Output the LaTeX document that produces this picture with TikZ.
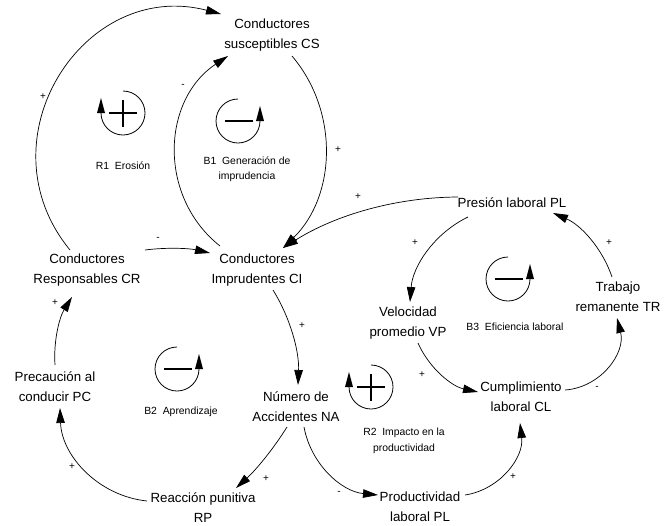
\documentclass[tikz,border=0pt]{standalone}
\usepackage{fontspec}
\setmainfont{Liberation Sans}
\usetikzlibrary{arrows.meta}
\tikzset{
  var/.style={align=center,inner sep=0pt,font=\fontsize{13.3}{20}\selectfont},
  looplbl/.style={align=center,inner sep=0pt,font=\fontsize{10.4}{15.5}\selectfont},
  sgn/.style={inner sep=0pt,font=\fontsize{10}{12}\selectfont},
  link/.style={draw,line width=0.7pt,-{Triangle[length=15pt,width=8.5pt]}},
  loopc/.style={line width=0.8pt},
  loopsym/.style={line width=2pt},
  rloop/.pic={
    \draw[loopc] (90:22) arc[start angle=90,end angle=-180,radius=22];
    \fill (-26,0) -- (-18,0) -- (-22,15) -- cycle;
    \draw[loopsym] (-14,0) -- (14,0) (0,-13.5) -- (0,13.5);
  },
  bloop/.pic={
    \draw[loopc] (90:22) arc[start angle=90,end angle=360,radius=22];
    \fill (18,0) -- (26,0) -- (22,15) -- cycle;
    \draw[loopsym] (-13,0) -- (15,0);
  }
}
\begin{document}
\begin{tikzpicture}[x=1pt,y=1pt]
\useasboundingbox (0,0) rectangle (671,-525);
% variables
\node[var] (CS) at (272,-35) {Conductores\\susceptibles CS};
\node[var] (CI) at (257,-270) {Conductores\\Imprudentes CI};
\node[var] (CR) at (87,-270) {Conductores\\Responsables CR};
\node[var] (PC) at (55,-387) {Precaución al\\conducir PC};
\node[var] (NA) at (296,-407) {Número de\\Accidentes NA};
\node[var] (RP) at (203,-508) {Reacción punitiva\\RP};
\node[var] (PLab) at (420,-507) {Productividad\\laboral PL};
\node[var] (CL) at (521,-397) {Cumplimiento\\laboral CL};
\node[var] (VP) at (408,-323) {Velocidad\\promedio VP};
\node[var] (PL) at (512,-203) {Presión laboral PL};
\node[var] (TR) at (618,-297) {Trabajo\\remanente TR};
% connectors
\path[link] ([shift={(-17,20)}]CR.center) to[bend left=72,looseness=1.3] ([shift={(-51,21)}]CS.center);
\path[link] ([shift={(20,-21)}]CS.center) to[bend left=43,looseness=0.98] ([shift={(26,22)}]CI.center);
\path[link] ([shift={(-37,24)}]CI.center) to[bend left=54,looseness=1.07] ([shift={(-44,-21)}]CS.center);
\path[link] ([shift={(58,20)}]CR.center) to[bend left=10,looseness=0.85] ([shift={(-47,17)}]CI.center);
\path[link] ([shift={(-54,6)}]PL.center) to[bend right=16,looseness=0.87] ([shift={(26,22)}]CI.center);
\path[link] ([shift={(-44,-14)}]PL.center) to[bend right=30,looseness=0.91] ([shift={(2,21)}]VP.center);
\path[link] ([shift={(10,-20)}]VP.center) to[bend right=27,looseness=0.9] ([shift={(-43,5)}]CL.center);
\path[link] ([shift={(44,7)}]CL.center) to[bend right=50,looseness=1.04] ([shift={(-1,-21)}]TR.center);
\path[link] ([shift={(-6,20)}]TR.center) to[bend right=24,looseness=0.89] ([shift={(41,-10)}]PL.center);
\path[link] ([shift={(16,-20)}]CI.center) to[bend left=17,looseness=0.87] ([shift={(2,22)}]NA.center);
\path[link] ([shift={(-9,-20)}]NA.center) to[bend left=8,looseness=0.85] ([shift={(33,20)}]RP.center);
\path[link] ([shift={(8,-20)}]NA.center) to[bend right=37,looseness=0.95] ([shift={(-42,12)}]PLab.center);
\path[link] ([shift={(45,12)}]PLab.center) to[bend right=44,looseness=0.99] ([shift={(-1,-26)}]CL.center);
\path[link] ([shift={(-56,7)}]RP.center) to[bend left=41,looseness=0.97] ([shift={(5,-21)}]PC.center);
\path[link] ([shift={(0,22)}]PC.center) to[bend left=18,looseness=0.87] ([shift={(-15,-27)}]CR.center);
% polarity signs
\node[sgn] (s1) at (43,-97) {+};
\node[sgn] (s2) at (338,-150) {+};
\node[sgn] (s3) at (183,-86) {-};
\node[sgn] (s4) at (158,-239) {-};
\node[sgn] (s5) at (358,-197) {+};
\node[sgn] (s6) at (415,-243) {+};
\node[sgn] (s7) at (422,-375) {+};
\node[sgn] (s8) at (597,-388) {-};
\node[sgn] (s9) at (609,-243) {+};
\node[sgn] (s10) at (302,-326) {+};
\node[sgn] (s11) at (266,-479) {+};
\node[sgn] (s12) at (339,-493) {-};
\node[sgn] (s13) at (513,-477) {+};
\node[sgn] (s14) at (72,-467) {+};
\node[sgn] (s15) at (55,-303) {+};
% loop markers
\pic at (123,-113) {rloop};
\pic at (238,-121) {bloop};
\pic at (177,-369) {bloop};
\pic at (508,-279) {bloop};
\pic at (371,-387) {rloop};
\node[looplbl] (R1L) at (123,-166) {R1\ \ Erosión};
\node[looplbl] (B1L) at (247,-169) {B1\ \ Generación de\\imprudencia};
\node[looplbl] (B2L) at (181,-412) {B2\ \ Aprendizaje};
\node[looplbl] (B3L) at (515,-327) {B3\ \ Eficiencia laboral};
\node[looplbl] (R2L) at (404,-441) {R2\ \ Impacto en la\\productividad};
\end{tikzpicture}
\end{document}
